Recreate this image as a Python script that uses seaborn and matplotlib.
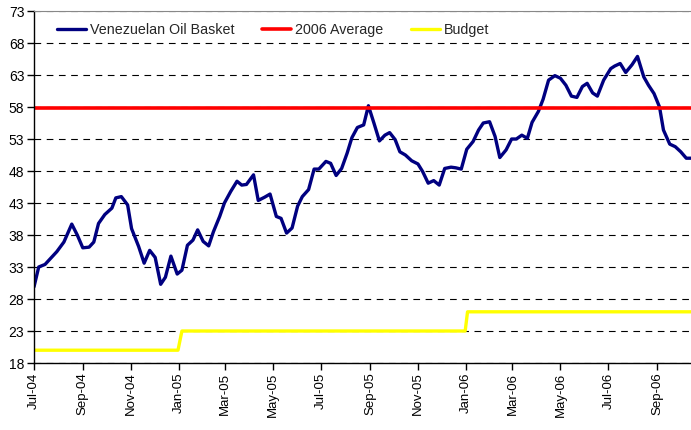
import matplotlib as mpl
mpl.use('Agg')
import matplotlib.pyplot as plt
import matplotlib.dates as mdates
import pandas as pd
import seaborn as sns

# Venezuelan oil basket, weekly-ish readings ($/bbl)
basket_dates = [
    '2004-07-01', '2004-07-07', '2004-07-15', '2004-07-21', '2004-07-30', '2004-08-08',
    '2004-08-18', '2004-08-25', '2004-09-01', '2004-09-09', '2004-09-15', '2004-09-21',
    '2004-09-29', '2004-10-08', '2004-10-13', '2004-10-20', '2004-10-28', '2004-11-02',
    '2004-11-11', '2004-11-18', '2004-11-25', '2004-12-02', '2004-12-09', '2004-12-15',
    '2004-12-22', '2004-12-30', '2005-01-05', '2005-01-12', '2005-01-19', '2005-01-25',
    '2005-02-01', '2005-02-08', '2005-02-14', '2005-02-22', '2005-02-28', '2005-03-08',
    '2005-03-16', '2005-03-22', '2005-03-28', '2005-04-06', '2005-04-12', '2005-04-20',
    '2005-04-27', '2005-05-05', '2005-05-11', '2005-05-18', '2005-05-25', '2005-06-01',
    '2005-06-07', '2005-06-15', '2005-06-22', '2005-06-28', '2005-07-07', '2005-07-13',
    '2005-07-20', '2005-07-27', '2005-08-03', '2005-08-09', '2005-08-16', '2005-08-24',
    '2005-08-30', '2005-09-06', '2005-09-13', '2005-09-20', '2005-09-26', '2005-10-03',
    '2005-10-09', '2005-10-16', '2005-10-24', '2005-11-01', '2005-11-07', '2005-11-14',
    '2005-11-21', '2005-11-28', '2005-12-05', '2005-12-13', '2005-12-19', '2005-12-26',
    '2006-01-02', '2006-01-10', '2006-01-17', '2006-01-23', '2006-01-31', '2006-02-07',
    '2006-02-13', '2006-02-21', '2006-02-28', '2006-03-06', '2006-03-13', '2006-03-20',
    '2006-03-26', '2006-04-03', '2006-04-09', '2006-04-16', '2006-04-24', '2006-05-01',
    '2006-05-08', '2006-05-15', '2006-05-22', '2006-05-29', '2006-06-04', '2006-06-11',
    '2006-06-17', '2006-06-25', '2006-07-04', '2006-07-09', '2006-07-16', '2006-07-23',
    '2006-07-31', '2006-08-07', '2006-08-15', '2006-08-21', '2006-08-28', '2006-09-04',
    '2006-09-09', '2006-09-17', '2006-09-24', '2006-10-01', '2006-10-08', '2006-10-14',
]
basket_values = [
    29.9, 33.0, 33.4, 34.2, 35.4, 36.9,
    39.7, 38.0, 36.0, 36.1, 36.9, 39.8,
    41.2, 42.2, 43.8, 44.0, 42.7, 39.0,
    36.2, 33.6, 35.6, 34.5, 30.3, 31.4,
    34.7, 31.9, 32.5, 36.4, 37.2, 38.8,
    37.0, 36.3, 38.5, 40.9, 43.0, 44.8,
    46.4, 45.8, 45.9, 47.4, 43.4, 43.9,
    44.4, 40.9, 40.6, 38.3, 39.1, 42.5,
    44.0, 45.1, 48.3, 48.3, 49.5, 49.2,
    47.3, 48.4, 50.8, 53.2, 54.8, 55.2,
    58.2, 55.5, 52.7, 53.6, 54.0, 52.9,
    51.0, 50.5, 49.6, 49.1, 47.9, 46.1,
    46.5, 45.8, 48.4, 48.6, 48.5, 48.3,
    51.4, 52.6, 54.4, 55.5, 55.7, 53.4,
    50.1, 51.3, 53.0, 53.0, 53.6, 53.1,
    55.6, 57.3, 59.2, 62.2, 62.9, 62.5,
    61.4, 59.7, 59.5, 61.2, 61.7, 60.2,
    59.7, 62.2, 64.0, 64.4, 64.8, 63.4,
    64.6, 65.9, 62.7, 61.4, 60.1, 58.0,
    54.4, 52.2, 51.8, 51.0, 50.0, 50.0,
]

avg_dates = ['2004-07-01', '2006-10-14']
avg_values = [57.8, 57.8]

budget_dates = ['2004-07-01', '2004-12-31', '2005-01-05', '2005-12-31', '2006-01-03', '2006-10-14']
budget_values = [20, 20, 23, 23, 26, 26]

y_ticks = [18, 23, 28, 33, 38, 43, 48, 53, 58, 63, 68, 73]

sns.set_style('white')
plt.rcParams['font.family'] = ['Liberation Sans', 'DejaVu Sans']

fig = plt.figure(figsize=(6.91, 4.30), dpi=100)
ax = fig.add_axes([0.0492, 0.1558, 0.9508, 0.8186])

sns.lineplot(x=pd.to_datetime(basket_dates), y=basket_values, ax=ax, color='#000080',
             linewidth=2.4, label='Venezuelan Oil Basket', sort=False)
sns.lineplot(x=pd.to_datetime(avg_dates), y=avg_values, ax=ax, color='#FF0000',
             linewidth=2.6, label='2006 Average', sort=False)
sns.lineplot(x=pd.to_datetime(budget_dates), y=budget_values, ax=ax, color='#FFFF00',
             linewidth=2.4, label='Budget', sort=False)

ax.set_xlim(pd.Timestamp('2004-07-01'), pd.Timestamp('2006-10-14'))
ax.set_ylim(18, 73)
ax.set_yticks(y_ticks)
ax.xaxis.set_major_locator(mdates.MonthLocator(bymonth=[1, 3, 5, 7, 9, 11]))
ax.xaxis.set_major_formatter(mdates.DateFormatter('%b-%y'))
ax.set_xlabel('')
ax.set_ylabel('')

ax.yaxis.grid(True, color='black', linestyle=(0, (6, 5)), linewidth=0.8)
ax.set_axisbelow(True)

for side in ['left', 'bottom']:
    ax.spines[side].set_color('black')
    ax.spines[side].set_linewidth(1.0)
ax.spines['top'].set_color('#888888')
ax.spines['top'].set_linewidth(0.8)
ax.spines['right'].set_visible(False)

ax.tick_params(axis='both', which='major', colors='black',
               direction='out', length=5, width=1, left=True, bottom=True, pad=2)
ax.tick_params(axis='y', labelsize=10)
ax.tick_params(axis='x', labelsize=9.5)
plt.setp(ax.get_xticklabels(), rotation=90)

ax.legend(loc='upper left', bbox_to_anchor=(0.02, 0.995), ncol=3, frameon=False,
          fontsize=10.3, handlelength=2.0, handletextpad=0.28, columnspacing=1.95,
          borderaxespad=0.3)

fig.savefig('out.png', dpi=100)
